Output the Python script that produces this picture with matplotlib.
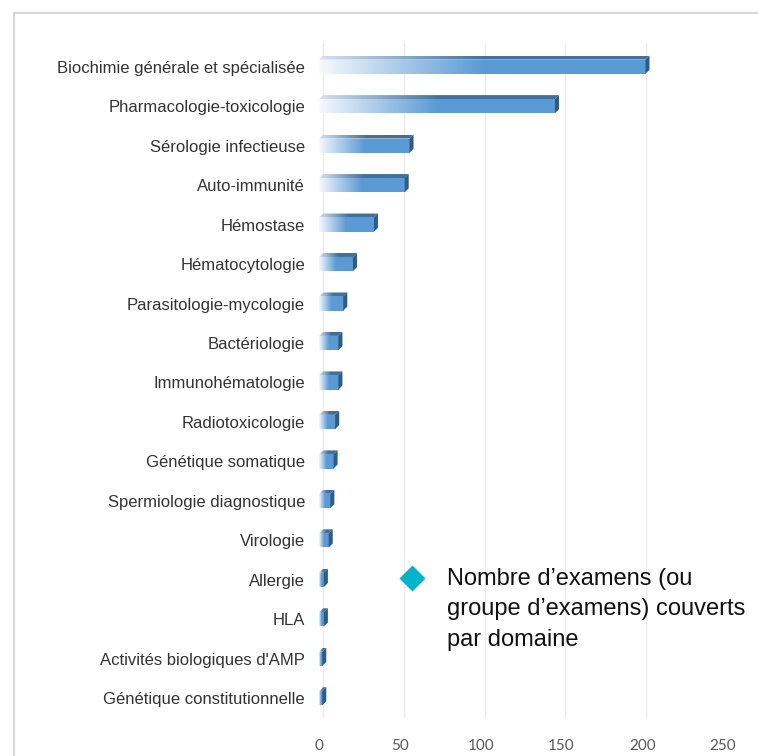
import numpy as np
import matplotlib.pyplot as plt
from matplotlib.colors import LinearSegmentedColormap
from matplotlib.patches import Polygon
from matplotlib.lines import Line2D

# data
domains = [
    "Biochimie générale et spécialisée",
    "Pharmacologie-toxicologie",
    "Sérologie infectieuse",
    "Auto-immunité",
    "Hémostase",
    "Hématocytologie",
    "Parasitologie-mycologie",
    "Bactériologie",
    "Immunohématologie",
    "Radiotoxicologie",
    "Génétique somatique",
    "Spermiologie diagnostique",
    "Virologie",
    "Allergie",
    "HLA",
    "Activités biologiques d'AMP",
    "Génétique constitutionnelle",
]
counts = [202, 146, 56, 53, 34, 21, 15, 12, 12, 10, 9, 7, 6, 3, 3, 2, 2]
ticks = [0, 50, 100, 150, 200, 250]
legend_text = "Nombre d\u2019examens (ou\ngroupe d\u2019examens) couverts\npar domaine"

W, H = 758, 756
fig = plt.figure(figsize=(W / 100, H / 100), dpi=100)
ax = fig.add_axes([319 / W, 1 - 718 / H, 404 / W, 675 / H])

ypos = np.arange(len(domains))
bars = ax.barh(ypos, counts, height=0.36, color='none', edgecolor='none', zorder=3)

front_cmap = LinearSegmentedColormap.from_list('front', ['#f6f9fd', '#5b9bd5'])
top_cmap = LinearSegmentedColormap.from_list('top', ['#d5e2f1', '#41719c'])
side_color = '#2f5b87'
dx, dy = 2.5, 0.1  # fake 3D depth

ramp = np.clip(np.linspace(0, 1, 256) / 0.5, 0, 1)[None, :]
for b in bars:
    x0, y0 = b.get_x(), b.get_y()
    w, h = b.get_width(), b.get_height()
    # front face with white -> blue gradient
    im = ax.imshow(ramp, cmap=front_cmap, vmin=0, vmax=1, aspect='auto',
                   extent=[x0, x0 + w, y0 + h, y0], zorder=3, interpolation='bilinear')
    im.set_clip_path(b)
    # top face
    top = Polygon([(x0, y0), (x0 + w, y0), (x0 + w + dx, y0 - dy), (x0 + dx, y0 - dy)],
                  closed=True, facecolor='none', edgecolor='none')
    ax.add_patch(top)
    im2 = ax.imshow(ramp, cmap=top_cmap, vmin=0, vmax=1, aspect='auto',
                    extent=[x0, x0 + w + dx, y0, y0 - dy], zorder=3, interpolation='bilinear')
    im2.set_clip_path(top)
    # right side face
    side = Polygon([(x0 + w, y0), (x0 + w + dx, y0 - dy), (x0 + w + dx, y0 + h - dy), (x0 + w, y0 + h)],
                   closed=True, facecolor=side_color, edgecolor='none', zorder=4)
    ax.add_patch(side)

# back-wall grid lines
ax.vlines([t + dx for t in ticks], -0.6, len(domains) - 0.5, color='#ebebeb', lw=1, zorder=0)

ax.set_xlim(0, 250)
ax.set_ylim(len(domains) - 0.5, -0.6)
for s in ax.spines.values():
    s.set_visible(False)

ax.set_xticks(ticks)
ax.set_xticklabels([str(t) for t in ticks], family='Lato', fontsize=11, color='#595959')
ax.set_yticks(ypos)
ax.set_yticklabels(domains, family='Liberation Sans', fontsize=12, color='#333333')
ax.tick_params(axis='x', length=0, pad=15)
ax.tick_params(axis='y', length=0, pad=10)

# frame of the screenshot
fig.add_artist(Line2D([14 / W, 14 / W], [0, 1 - 13 / H], color='#d6d6d6', lw=1.5))
fig.add_artist(Line2D([14 / W, 1], [1 - 13 / H, 1 - 13 / H], color='#d6d6d6', lw=1.5))

# legend-like annotation
fig.add_artist(Line2D([412 / W], [1 - 578 / H], marker='D', ms=13, color='#00b4cc',
                      markeredgecolor='none', linestyle='none'))
fig.text(447 / W, 1 - 568 / H, legend_text, family='Liberation Sans', fontsize=17,
         color='#111111', va='top', linespacing=1.5)

fig.savefig('out.png', dpi=100)
